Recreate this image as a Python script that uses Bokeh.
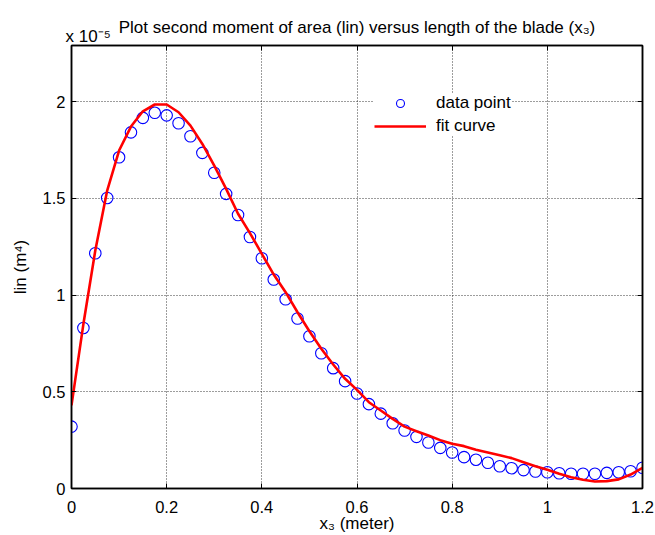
from bokeh.plotting import figure
from bokeh.models import (LinearAxis, FixedTicker, CustomJSTickFormatter, Title,
                          Legend, LegendItem, Range1d)
from bokeh.embed import file_html
from bokeh.resources import INLINE

# ---------------- data (lin values in units of 1e-5 m^4) ----------------
x3 = [0.000, 0.025, 0.050, 0.075, 0.100, 0.125, 0.150, 0.175, 0.200, 0.225,
      0.250, 0.275, 0.300, 0.325, 0.350, 0.375, 0.400, 0.425, 0.450, 0.475,
      0.500, 0.525, 0.550, 0.575, 0.600, 0.625, 0.650, 0.675, 0.700, 0.725,
      0.750, 0.775, 0.800, 0.825, 0.850, 0.875, 0.900, 0.925, 0.950, 0.975,
      1.000, 1.025, 1.050, 1.075, 1.100, 1.125, 1.150, 1.175, 1.200]

lin_data = [0.320, 0.830, 1.216, 1.502, 1.712, 1.841, 1.916, 1.942, 1.929, 1.888,
            1.821, 1.735, 1.632, 1.523, 1.414, 1.300, 1.190, 1.080, 0.978, 0.879,
            0.787, 0.699, 0.622, 0.555, 0.491, 0.436, 0.387, 0.337, 0.300, 0.267,
            0.238, 0.210, 0.186, 0.162, 0.149, 0.133, 0.115, 0.105, 0.095, 0.088,
            0.084, 0.079, 0.076, 0.076, 0.076, 0.081, 0.084, 0.089, 0.107]

lin_fit = [0.430, 0.850, 1.230, 1.540, 1.747, 1.871, 1.950, 1.985, 1.985, 1.945,
           1.876, 1.781, 1.669, 1.549, 1.420, 1.320, 1.213, 1.106, 1.015, 0.911,
           0.813, 0.722, 0.641, 0.567, 0.510, 0.446, 0.403, 0.360, 0.320, 0.296,
           0.274, 0.250, 0.231, 0.219, 0.200, 0.186, 0.172, 0.157, 0.136, 0.115,
           0.097, 0.076, 0.058, 0.045, 0.036, 0.038, 0.047, 0.072, 0.107]

x_ticks = [0.0, 0.2, 0.4, 0.6, 0.8, 1.0, 1.2]
x_tick_labels = ["0", "0.2", "0.4", "0.6", "0.8", "1", "1.2"]
y_ticks = [0.0, 0.5, 1.0, 1.5, 2.0]
y_tick_labels = ["0", "0.5", "1", "1.5", "2"]

title_text = "Plot second moment of area (lin) versus length of the blade (x\u2083)"
scale_text = "x 10\u207b\u2075"
x_label = "x\u2083 (meter)"
y_label = "lin (m\u2074)"
legend_labels = ["data point", "fit curve"]

# ---------------- layout ----------------
FONT = "Liberation Sans"
W, H = 655, 535
FL, FR, FT, FB = 71, 642, 45, 488

p = figure(width=W, height=H, x_range=Range1d(0, 1.2), y_range=Range1d(0, 2.29),
           output_backend="svg", toolbar_location=None, title_location=None,
           min_border_left=FL, min_border_right=W - FR,
           min_border_top=FT, min_border_bottom=H - FB)
p.background_fill_color = "white"
p.border_fill_color = "white"
p.outline_line_color = "black"
p.outline_line_width = 1.5


def fmt(vals, labs):
    return CustomJSTickFormatter(args=dict(vals=vals, labs=labs), code="""
        const i = vals.findIndex(v => Math.abs(v - tick) < 1e-9);
        return i >= 0 ? labs[i] : "";
    """)


p.add_layout(LinearAxis(), "above")
p.add_layout(LinearAxis(), "right")

for ax in p.xaxis:
    ax.ticker = FixedTicker(ticks=x_ticks)
    ax.formatter = fmt(x_ticks, x_tick_labels)
for ax in p.yaxis:
    ax.ticker = FixedTicker(ticks=y_ticks)
    ax.formatter = fmt(y_ticks, y_tick_labels)

for ax in list(p.xaxis) + list(p.yaxis):
    ax.axis_line_color = "black"
    ax.axis_line_width = 1.5
    ax.major_tick_in = 5
    ax.major_tick_out = 0
    ax.major_tick_line_color = "black"
    ax.major_tick_line_width = 1
    ax.minor_tick_line_color = None
    ax.major_label_text_font = FONT
    ax.major_label_text_font_size = "16.5px"
    ax.major_label_text_color = "black"
    ax.axis_label_text_font = FONT
    ax.axis_label_text_font_size = "17px"
    ax.axis_label_text_font_style = "normal"
    ax.axis_label_text_color = "black"

bx = p.below[0]
bx.major_label_standoff = 12
bx.axis_label = x_label
bx.axis_label_standoff = -2

ly = p.left[0]
ly.major_label_standoff = 6
ly.axis_label = y_label
ly.axis_label_standoff = 10

# box-only axes on top and right: ticks, no labels
for ax in (p.above[0], p.right[0]):
    ax.major_label_text_font_size = "1px"
    ax.major_label_text_color = None
    ax.major_label_standoff = 0

p.xgrid.ticker = FixedTicker(ticks=x_ticks)
p.ygrid.ticker = FixedTicker(ticks=y_ticks)
for g in (p.xgrid, p.ygrid):
    g.grid_line_color = "#262626"
    g.grid_line_dash = "1 2"
    g.grid_line_width = 1
    g.grid_line_alpha = 0.9

# ---------------- titles ----------------
t_scale = Title(text=scale_text, align="left", offset=-6, standoff=0,
                text_font=FONT, text_font_size="17px", text_font_style="normal",
                text_color="black")
p.add_layout(t_scale, "above")
t_main = Title(text=title_text, align="center", standoff=-24,
               text_font=FONT, text_font_size="17px", text_font_style="normal",
               text_color="black")
p.add_layout(t_main, "above")

# ---------------- glyphs ----------------
r_data = p.scatter(x3, lin_data, marker="circle", size=11.5, fill_color=None,
                   line_color="#0000ff", line_width=1.1)
r_fit = p.line(x3, lin_fit, line_color="#ff0000", line_width=2.6)

legend = Legend(items=[LegendItem(label=legend_labels[0], renderers=[r_data]),
                       LegendItem(label=legend_labels[1], renderers=[r_fit])],
                location=(303, 352))
legend.label_text_font = FONT
legend.label_text_font_size = "17px"
legend.label_text_color = "black"
legend.background_fill_color = "white"
legend.background_fill_alpha = 1
legend.border_line_color = None
legend.padding = 7
legend.spacing = 3
legend.glyph_width = 52
legend.glyph_height = 20
legend.label_height = 20
legend.label_standoff = 10
legend.margin = 0
p.add_layout(legend)

open("out.html", "w").write(file_html(p, INLINE))
